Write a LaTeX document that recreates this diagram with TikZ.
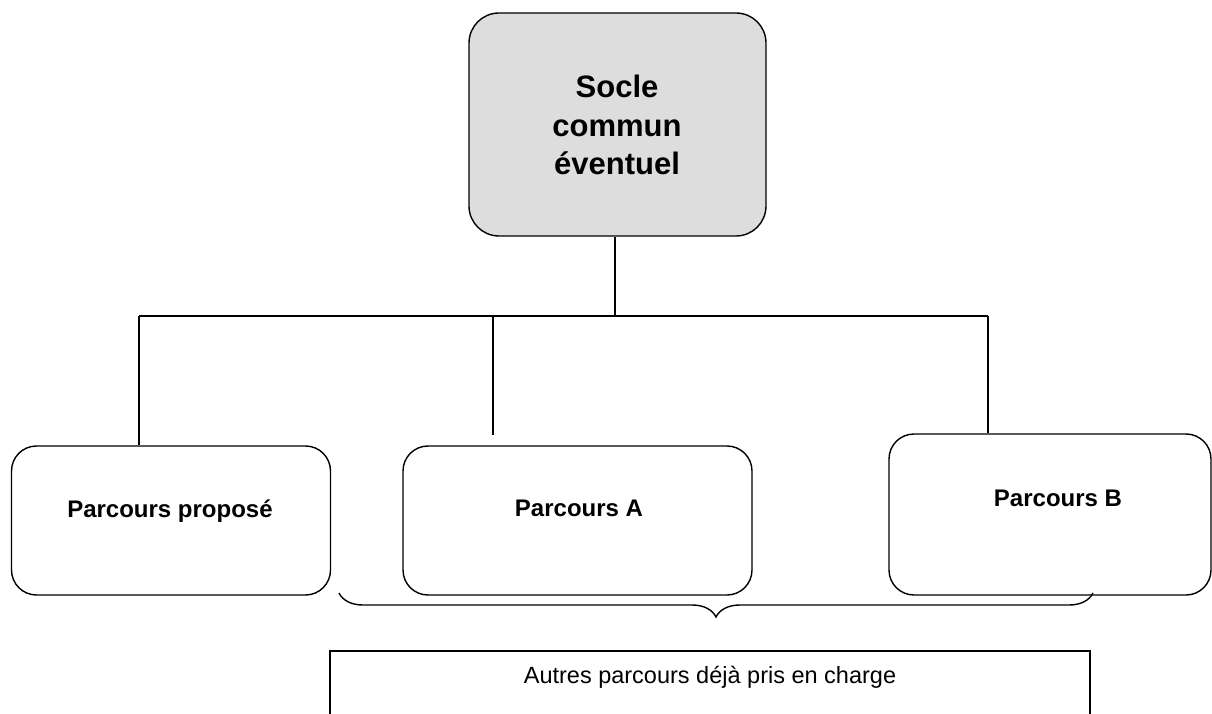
\documentclass[tikz,border=0pt]{standalone}
\usepackage{fontspec}
\setmainfont{Liberation Sans}
\usetikzlibrary{decorations.pathreplacing}
\definecolor{soclegray}{RGB}{221,221,221}
\tikzset{
  line/.style={line width=1.4pt, draw=black},
  topbox/.style={line, fill=soclegray, rounded corners=30pt, minimum width=297pt, minimum height=223pt, inner sep=0pt},
  pbox/.style={line, rounded corners=25pt, inner sep=0pt},
  plainbox/.style={line, inner sep=0pt},
  boldlbl/.style={font=\fontsize{24}{28}\selectfont\bfseries, inner sep=0pt, anchor=base},
  toplbl/.style={font=\fontsize{31}{38.5}\selectfont\bfseries, align=center, inner sep=0pt},
  regl/.style={font=\fontsize{23.5}{28}\selectfont, inner sep=0pt, anchor=base},
}
\begin{document}
\begin{tikzpicture}[x=1pt,y=1pt]
\useasboundingbox (0,0) rectangle (1212,713);
% boxes
\node[topbox] (top) at (617.5,588.5) {};
\node[toplbl] (toptxt) at (617,588) {Socle\\commun\\éventuel};
\node[pbox, minimum width=319pt, minimum height=149pt] (left) at (171,192.5) {};
\node[pbox, minimum width=349pt, minimum height=149pt] (mid) at (577.5,192.5) {};
\node[pbox, minimum width=322pt, minimum height=161pt] (right) at (1050,198.5) {};
\node[boldlbl] (lefttxt) at (170,196) {Parcours proposé};
\node[boldlbl] (midtxt) at (579,197) {Parcours A};
\node[boldlbl] (righttxt) at (1058,207) {Parcours B};
% bottom box (cut by the page edge)
\node[plainbox, minimum width=760pt, minimum height=90pt] (autres) at (710,17) {};
\node[regl] (autrestxt) at (710,30) {Autres parcours déjà pris en charge};
% connectors
\coordinate (bus) at (615,397);
\coordinate (busL) at (139,397);
\coordinate (busM) at (493,397);
\coordinate (busR) at (988,397);
\coordinate (midend) at (493,278);
\draw[line] (bus |- top.south) -- (bus);
\draw[line] (busL) -- (busR);
\draw[line] (busL) -- (busL |- left.north);
\draw[line] (busM) -- (midend);
\draw[line] (busR) -- (busR |- right.north);
% brace
\coordinate (braceL) at (339,120);
\coordinate (braceR) at (1093,120);
\draw[line, decorate, decoration={brace, mirror, amplitude=24pt}] (braceL) -- (braceR);
\end{tikzpicture}
\end{document}
